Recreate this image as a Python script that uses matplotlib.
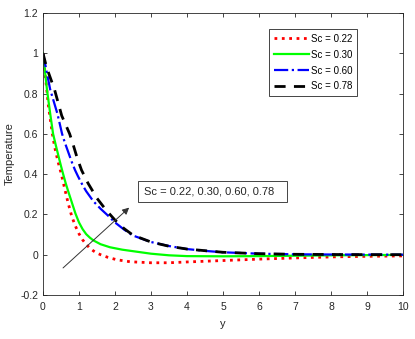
import matplotlib
matplotlib.use("Agg")
import matplotlib.pyplot as plt
from matplotlib.patches import Rectangle

plt.rcParams['font.family'] = ['Liberation Sans', 'DejaVu Sans']

# Sc = 0.22
x_red = [0, 0.15, 0.26, 0.33, 0.42, 0.51, 0.6, 0.7, 0.8, 0.9, 1.0, 1.1, 1.2, 1.3, 1.4, 1.5, 1.6, 1.8, 2.05, 2.42, 3, 3.5, 4, 5, 6, 7, 8, 9, 10]
y_red = [1, 0.74, 0.6, 0.53, 0.46, 0.4, 0.33, 0.255, 0.19, 0.142, 0.104, 0.074, 0.051, 0.033, 0.019, 0.008, 0.0, -0.013, -0.025, -0.035, -0.04, -0.04, -0.036, -0.029, -0.022, -0.016, -0.011, -0.008, -0.006]

# Sc = 0.30
x_green = [0, 0.11, 0.2, 0.28, 0.36, 0.43, 0.5, 0.56, 0.63, 0.7, 0.8, 0.9, 1.0, 1.1, 1.2, 1.3, 1.4, 1.6, 1.86, 2.2, 2.6, 3, 3.5, 4, 5, 6, 7, 8, 9, 10]
y_green = [1, 0.82, 0.7, 0.6, 0.54, 0.49, 0.44, 0.4, 0.355, 0.315, 0.26, 0.205, 0.16, 0.127, 0.102, 0.085, 0.071, 0.052, 0.037, 0.025, 0.015, 0.005, -0.003, -0.007, -0.008, -0.007, -0.005, -0.003, -0.002, -0.001]

# Sc = 0.60
x_blue = [0, 0.1, 0.2, 0.3, 0.4, 0.53, 0.6, 0.7, 0.8, 0.89, 0.97, 1.1, 1.2, 1.4, 1.6, 1.8, 2.0, 2.25, 2.5, 3, 3.5, 4, 4.5, 5, 6, 7, 8, 10]
y_blue = [1, 0.91, 0.82, 0.76, 0.7, 0.6, 0.56, 0.51, 0.46, 0.42, 0.39, 0.345, 0.315, 0.265, 0.228, 0.195, 0.16, 0.125, 0.095, 0.063, 0.043, 0.028, 0.019, 0.012, 0.005, 0.002, 0.001, 0]

# Sc = 0.78
x_black = [0, 0.1, 0.32, 0.52, 0.74, 0.84, 0.95, 1.07, 1.25, 1.5, 1.75, 1.86, 2.0, 2.25, 2.5, 3, 3.5, 4, 5, 6, 7, 8, 10]
y_black = [1, 0.93, 0.82, 0.69, 0.6, 0.545, 0.48, 0.42, 0.355, 0.28, 0.222, 0.2, 0.172, 0.13, 0.097, 0.063, 0.042, 0.028, 0.012, 0.005, 0.002, 0.001, 0]

labels = ['Sc = 0.22', 'Sc = 0.30', 'Sc = 0.60', 'Sc = 0.78']
note = 'Sc = 0.22, 0.30, 0.60, 0.78'

fig = plt.figure(figsize=(4.15, 3.39), dpi=100)
ax = fig.add_axes([0.1036, 0.1298, 0.8675, 0.832])

ax.plot(x_red, y_red, color='#ff0000', linestyle=':', linewidth=2, label=labels[0])
ax.plot(x_green, y_green, color='#00ff00', linestyle='-', linewidth=1.6, label=labels[1])
ax.plot(x_blue, y_blue, color='#0000ff', linestyle='-.', linewidth=1.6, label=labels[2])
ax.plot(x_black, y_black, color='black', linestyle='--', linewidth=2, dashes=(4, 3), label=labels[3])

ax.set_xlim(0, 10)
ax.set_ylim(-0.2, 1.2)
ax.set_xticks(range(0, 11))
ax.set_yticks([-0.2, 0, 0.2, 0.4, 0.6, 0.8, 1, 1.2])
ax.set_yticklabels(['-0.2', '0', '0.2', '0.4', '0.6', '0.8', '1', '1.2'])
ax.tick_params(direction='in', top=True, right=True, labelsize=7.5, colors='#262626', length=3, width=0.6)
ax.tick_params(axis='x', pad=5)
for s in ax.spines.values():
    s.set_color('#262626')
    s.set_linewidth(0.6)
ax.set_xlabel('y', fontsize=8, color='#262626', labelpad=5)
ax.set_ylabel('Temperature', fontsize=8, color='#262626', labelpad=4)

leg = ax.legend(loc='upper right', bbox_to_anchor=(0.872, 0.943), borderaxespad=0, fontsize=7,
                handlelength=3.6, handletextpad=0.15, labelspacing=0.6,
                borderpad=0.5, fancybox=False, framealpha=1, edgecolor='#262626')
leg.get_frame().set_linewidth(0.6)

ax.annotate('', xy=(2.45, 0.243), xytext=(0.5, -0.075),
            arrowprops=dict(arrowstyle='-|>', color='#333333', lw=0.7, mutation_scale=10))
ax.add_patch(Rectangle((2.64, 0.263), 4.14, 0.104, facecolor='white', edgecolor='#262626', linewidth=0.6, zorder=5))
ax.text(2.8, 0.315, note, fontsize=8, color='#262626', va='center', ha='left', zorder=6)

fig.savefig('out.png', dpi=100)
